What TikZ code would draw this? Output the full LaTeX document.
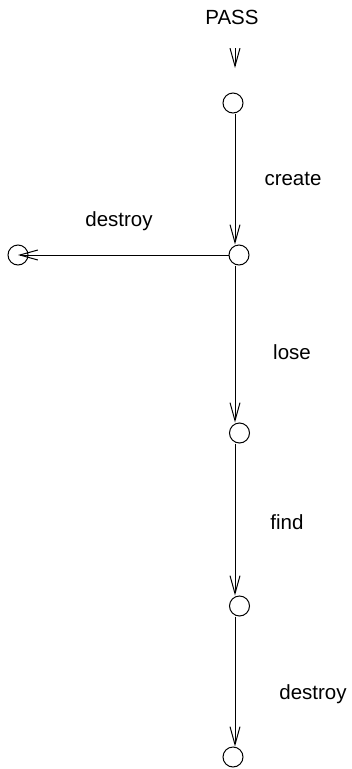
\documentclass[tikz,border=0pt]{standalone}
\usepackage{fontspec}
\setmainfont{Liberation Sans}
\usetikzlibrary{arrows.meta}
\begin{document}
\begin{tikzpicture}[x=1pt,y=-1pt,
  state/.style={circle,draw,line width=1pt,minimum size=20pt,inner sep=0pt},
  arr/.style={line width=1pt,-{Straight Barb[length=18pt,width=10pt,line width=1pt]}},
  lbl/.style={font=\fontsize{20.5}{24}\selectfont,inner sep=0pt}]
  \useasboundingbox (0,0) rectangle (352,769);
  % spine of the main chain
  \coordinate (spine) at (235,0);
  % states
  \node[state] (s1) at (233,103) {};
  \node[state] (s2) at (239,255) {};
  \node[state] (s3) at (239.5,433) {};
  \node[state] (s4) at (239.5,606) {};
  \node[state] (s5) at (233,757) {};
  \node[state] (dead) at (18,255) {};
  % entry arrow
  \node[lbl] (pass) at (232,17) {PASS};
  \coordinate (in0) at (235,48);
  \coordinate (in1) at (235,68);
  \draw[arr] (in0) -- (in1);
  % transitions
  \draw[arr] (s1.south -| spine) -- (s2.north -| spine);
  \draw[arr] (s2.south -| spine) -- (s3.north -| spine);
  \draw[arr] (s3.south -| spine) -- (s4.north -| spine);
  \draw[arr] (s4.south -| spine) -- (s5.north -| spine);
  \draw[arr] (s2.west) -- (dead.center);
  % labels
  \node[lbl] (l1) at (293,179) {create};
  \node[lbl] (l2) at (119,221) {destroy};
  \node[lbl] (l3) at (292,352) {lose};
  \node[lbl] (l4) at (287,522) {find};
  \node[lbl] (l5) at (313,694) {destroy};
\end{tikzpicture}
\end{document}
